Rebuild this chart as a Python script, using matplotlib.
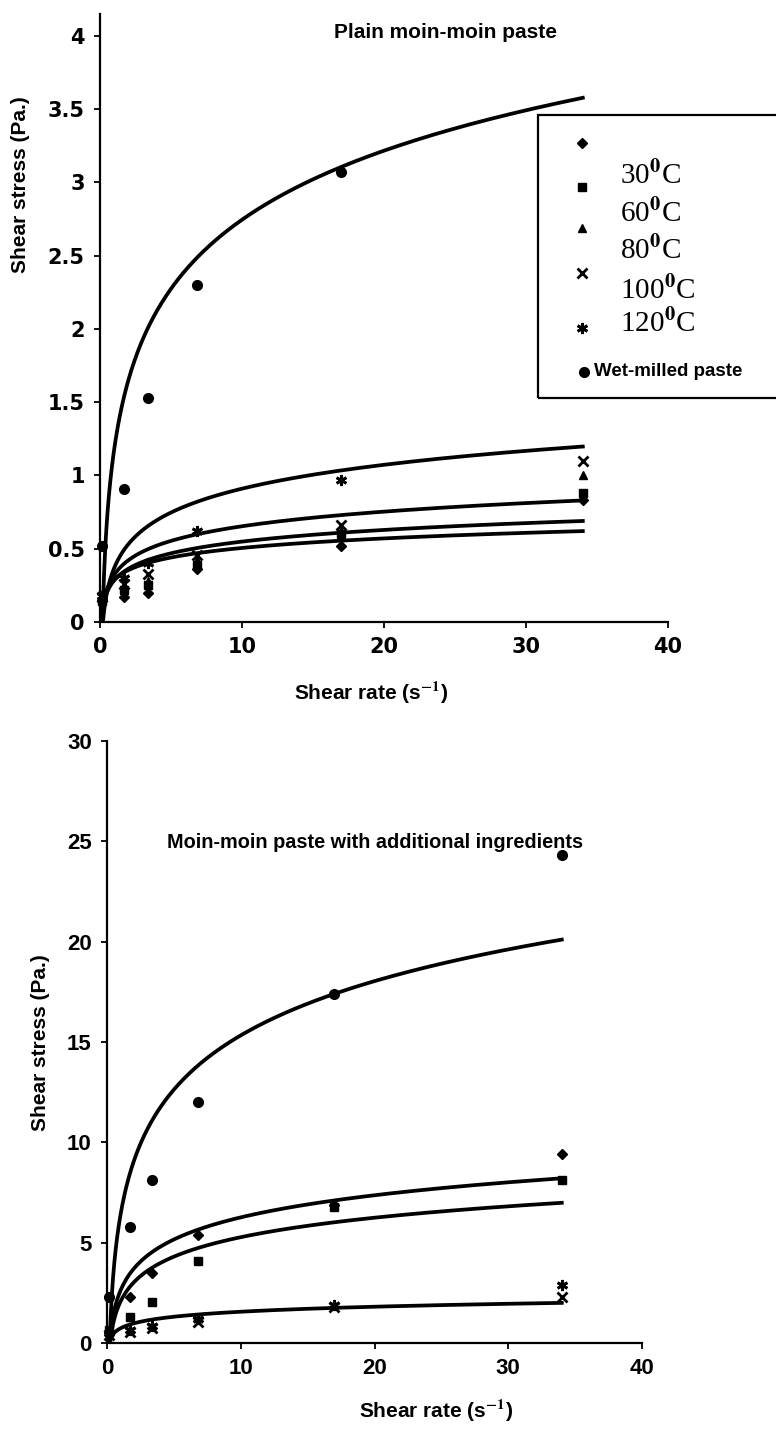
import numpy as np
import matplotlib.pyplot as plt
from matplotlib.patches import Rectangle

plt.rcParams['font.family'] = ['Liberation Sans', 'DejaVu Sans']
plt.rcParams['font.weight'] = 'bold'
plt.rcParams['mathtext.fontset'] = 'stix'

# shear rates (1/s)
shear_rate = [0.17, 1.7, 3.4, 6.8, 17, 34]

series = ['30', '60', '80', '100', '120', 'wet']
markers = {'30': 'D', '60': 's', '80': '^', '100': 'x', '120': (6, 2, 0), 'wet': 'o'}
msizes = {'30': 5, '60': 6, '80': 6, '100': 7, '120': 8, 'wet': 7}

# plain moin-moin paste, shear stress (Pa)
plain_stress = {
    '30': [0.15, 0.17, 0.20, 0.36, 0.52, 0.83],
    '60': [0.14, 0.22, 0.25, 0.39, 0.60, 0.88],
    '80': [0.16, 0.24, 0.28, 0.42, 0.62, 1.00],
    '100': [0.17, 0.26, 0.33, 0.46, 0.66, 1.10],
    '120': [0.18, 0.30, 0.40, 0.62, 0.97, np.nan],
    'wet': [0.52, 0.91, 1.53, 2.30, 3.07, np.nan],
}
# log trendlines  y = a*ln(x) + b
plain_fit = {
    '30': (0.094, 0.289),
    '60': (0.115, 0.284),
    '100': (0.144, 0.322),
    '120': (0.235, 0.369),
    'wet': (0.68, 1.18),
}

# moin-moin paste with additional ingredients, shear stress (Pa)
ingr_stress = {
    '30': [0.5, 2.3, 3.5, 5.4, 6.9, 9.4],
    '60': [0.65, 1.3, 2.05, 4.1, 6.8, 8.1],
    '100': [0.4, 0.55, 0.75, 1.05, 1.8, 2.3],
    '120': [0.5, 0.65, 0.85, 1.2, 1.9, 2.9],
    'wet': [2.3, 5.8, 8.1, 12.0, 17.4, 24.3],
}
ingr_fit = {
    '30': (1.59, 2.6),
    '60': (1.4, 2.05),
    '120': (0.36, 0.73),
    'wet': (3.9, 6.35),
}

W, H = 776, 1429
fig = plt.figure(figsize=(W / 100, H / 100), dpi=100)


def style_axes(ax, tick_size, tick_family):
    for s in ['top', 'right']:
        ax.spines[s].set_visible(False)
    for s in ['left', 'bottom']:
        ax.spines[s].set_linewidth(1.6)
    ax.tick_params(direction='out', length=4, width=1.3, labelsize=tick_size, pad=7)
    for lab in ax.get_xticklabels() + ax.get_yticklabels():
        lab.set_fontweight('bold')
        lab.set_family(tick_family)


def draw(ax, stress, fits):
    xs = np.geomspace(shear_rate[0], shear_rate[-1], 300)
    for k, (a, b) in fits.items():
        ax.plot(xs, a * np.log(xs) + b, color='black', lw=2.7, zorder=2)
    for k, vals in stress.items():
        ax.plot(shear_rate, vals, linestyle='none', marker=markers[k],
                markersize=msizes[k], color='black', markeredgewidth=2 if k in ('100', '120') else 1,
                zorder=3, clip_on=False)


# ---- top chart ----
ax1 = fig.add_axes([100 / W, 1 - 622 / H, 568 / W, 608 / H])
draw(ax1, plain_stress, plain_fit)
ax1.set_xlim(0, 40)
ax1.set_ylim(0, 4.15)
ax1.set_xticks([0, 10, 20, 30, 40])
ax1.set_yticks([0, 0.5, 1, 1.5, 2, 2.5, 3, 3.5, 4])
ax1.set_yticklabels(['0', '0.5', '1', '1.5', '2', '2.5', '3', '3.5', '4'])
style_axes(ax1, 15, 'DejaVu Sans')
ax1.set_xlabel('Shear rate (s$^{\\mathbf{-1}}$)', fontsize=15, fontweight='bold')
ax1.xaxis.set_label_coords((371 - 100) / 568, (622 - 680) / 608)
ax1.set_ylabel('Shear stress (Pa.)', fontsize=15, fontweight='bold')
ax1.yaxis.set_label_coords((30 - 100) / 568, (622 - 185) / 608)
ax1.text((445 - 100) / 568, (622 - 33) / 608, 'Plain moin-moin paste', transform=ax1.transAxes,
         ha='center', va='center', fontsize=15, fontweight='bold')

# legend drawn by hand (box runs past the right edge)
fig.patches.append(Rectangle((538 / W, 1 - 398 / H), 260 / W, 283 / H, transform=fig.transFigure,
                             fill=False, edgecolor='black', lw=1.6, clip_on=False))
leg_rows = [('30', 143, 175), ('60', 187, 213), ('80', 228, 250), ('100', 273, 290), ('120', 328, 323)]
for k, my, ty in leg_rows:
    fig.lines.append(plt.Line2D([582 / W], [1 - my / H], transform=fig.transFigure, marker=markers[k],
                                markersize=msizes[k], color='black', linestyle='none',
                                markeredgewidth=2 if k in ('100', '120') else 1))
    fig.text(620 / W, 1 - ty / H, k + '$^{\\mathrm{0}}$C', family='Liberation Serif', fontweight='normal',
             fontsize=21, ha='left', va='center')
fig.lines.append(plt.Line2D([584 / W], [1 - 372 / H], transform=fig.transFigure, marker='o',
                            markersize=7, color='black', linestyle='none'))
fig.text(594 / W, 1 - 372 / H, 'Wet-milled paste', fontsize=13.5, fontweight='bold', ha='left', va='center')

# ---- bottom chart ----
ax2 = fig.add_axes([107 / W, 1 - 1343 / H, 535 / W, 602 / H])
draw(ax2, ingr_stress, ingr_fit)
ax2.set_xlim(0, 40)
ax2.set_ylim(0, 30)
ax2.set_xticks([0, 10, 20, 30, 40])
ax2.set_yticks([0, 5, 10, 15, 20, 25, 30])
style_axes(ax2, 16, 'Liberation Sans')
ax2.set_xlabel('Shear rate (s$^{\\mathbf{-1}}$)', fontsize=15, fontweight='bold')
ax2.xaxis.set_label_coords((436 - 107) / 535, (1343 - 1398) / 602)
ax2.set_ylabel('Shear stress (Pa.)', fontsize=15, fontweight='bold')
ax2.yaxis.set_label_coords((50 - 107) / 535, (1343 - 1043) / 602)
ax2.text((167 - 107) / 535, (1343 - 842) / 602, 'Moin-moin paste with additional ingredients',
         transform=ax2.transAxes, ha='left', va='center', fontsize=14.3, fontweight='bold')

fig.savefig('out.png', dpi=100)
